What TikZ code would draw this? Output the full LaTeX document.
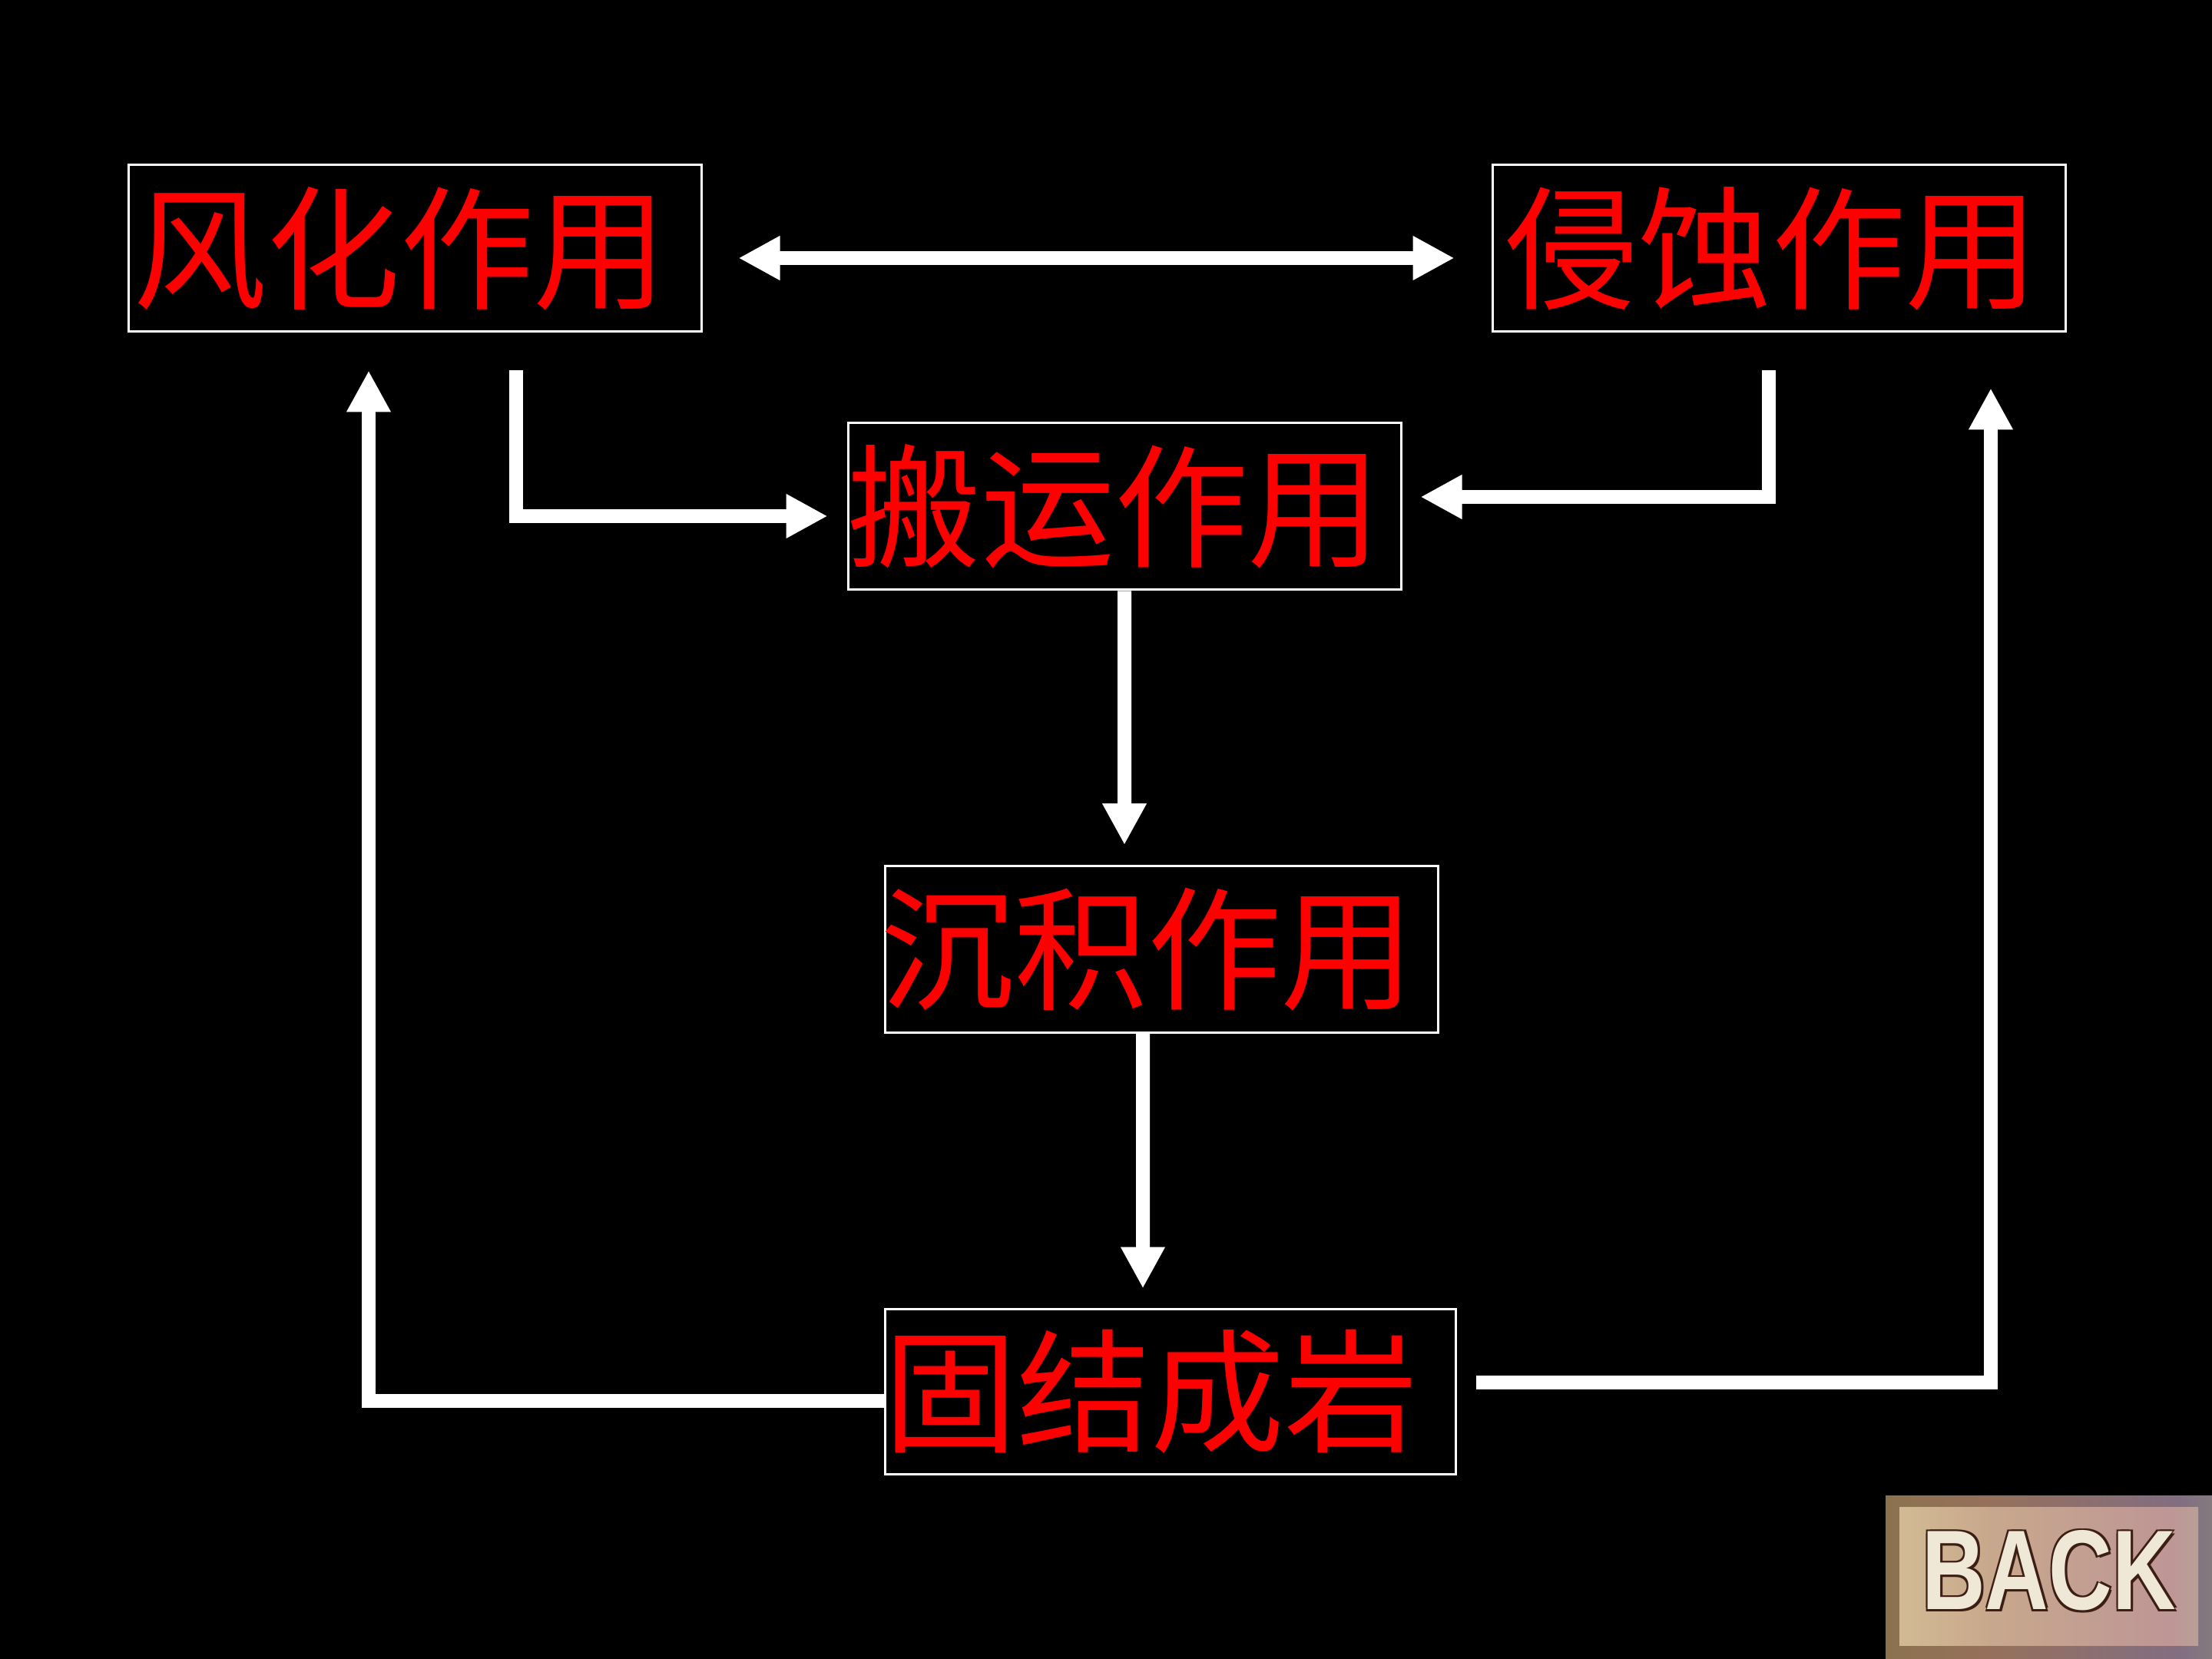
\documentclass[tikz,border=0pt]{standalone}
\usepackage{fontspec}
\newfontfamily\cjk{Noto Sans CJK SC}
\newfontfamily\backfont{Liberation Sans}[BoldFont={Liberation Sans Bold}]
\usetikzlibrary{arrows.meta,calc}
\newcommand\boxlabel[2]{\makebox[5cm]{\kern-#1 #2}}
\definecolor{bkA}{RGB}{226,218,160}
\definecolor{bkB}{RGB}{200,168,140}
\definecolor{bkC}{RGB}{190,150,150}
\definecolor{bkD}{RGB}{160,205,160}
\definecolor{boA}{RGB}{120,118,60}
\definecolor{boB}{RGB}{150,112,90}
\definecolor{boC}{RGB}{130,110,130}
\definecolor{boD}{RGB}{140,180,110}
\definecolor{bkText}{RGB}{240,232,215}
\definecolor{bkEdge}{RGB}{60,30,20}
\pgfdeclarehorizontalshading{backin}{100bp}{color(0bp)=(bkA); color(40bp)=(bkB); color(70bp)=(bkC); color(100bp)=(bkD)}
\pgfdeclarehorizontalshading{backout}{100bp}{color(0bp)=(boA); color(40bp)=(boB); color(70bp)=(boC); color(100bp)=(boD)}
\begin{document}
\begin{tikzpicture}[x=1cm,y=1cm,
  box/.style={draw=white,line width=0.03cm,inner sep=0pt,minimum height=2.17cm,
    text=red,font=\cjk\fontsize{49.5}{51}\selectfont},
  flow/.style={draw=white,line width=0.18cm,line join=miter,
    -{Triangle[length=0.54cm,width=0.54cm]}},
  dflow/.style={draw=white,line width=0.18cm,
    {Triangle[length=0.54cm,width=0.54cm]}-{Triangle[length=0.54cm,width=0.54cm]}},
  backtxt/.style={inner sep=0pt,font=\backfont\bfseries\fontsize{42}{44}\selectfont}
]
\fill[black] (0,0) rectangle (28.8,-21.6);
\useasboundingbox (0,0) rectangle (28.8,-21.6);

% boxes
\node[box,minimum width=7.46cm] (wh) at (5.40,-3.235) {\boxlabel{0.38cm}{风化作用}};
\node[box,minimum width=7.46cm] (qs) at (23.16,-3.235) {\boxlabel{0.18cm}{侵蚀作用}};
\node[box,minimum width=7.20cm] (by) at (14.64,-6.595) {\boxlabel{0.26cm}{搬运作用}};
\node[box,minimum width=7.20cm] (cj) at (15.12,-12.36) {\boxlabel{0.36cm}{沉积作用}};
\node[box,minimum width=7.43cm,minimum height=2.15cm] (gj) at (15.235,-18.115) {\boxlabel{0.5cm}{固结成岩}};

% connectors
\draw[dflow] ($(wh.east)+(0.47,-0.125)$) -- ($(qs.west)+(-0.48,-0.125)$);
\draw[flow] ($(wh.south)+(1.32,-0.49)$) |- ($(by.west)+(-0.25,-0.125)$);
\draw[flow] ($(qs.south)+(-0.13,-0.49)$) |- ($(by.east)+(0.24,0.125)$);
\draw[flow] (by.south) -- ($(cj.north)+(-0.48,0.26)$);
\draw[flow] ($(cj.south)+(-0.24,0)$) -- ($(gj.north)+(-0.355,0.25)$);
\draw[flow] ($(gj.west)+(0,-0.125)$) -| ($(wh.south)+(-0.60,-0.49)$);
\draw[flow] ($(gj.east)+(0.25,0.115)$) -| ($(qs.south)+(2.76,-0.72)$);

% BACK button
\shade[shading=backout] (24.55,-19.47) rectangle (28.8,-21.6);
\shade[shading=backin] (24.73,-19.62) rectangle (28.62,-21.42);
\foreach \dx/\dy [count=\i] in {0.03/-0.03,-0.02/0.02,0.03/0.02,-0.02/-0.03}
  \node[backtxt,text=bkEdge] (bk\i) at (26.675+\dx,-20.445+\dy) {\scalebox{0.775}[1]{BACK}};
\node[backtxt,text=bkText] (bk) at (26.675,-20.445) {\scalebox{0.775}[1]{BACK}};
\end{tikzpicture}
\end{document}
